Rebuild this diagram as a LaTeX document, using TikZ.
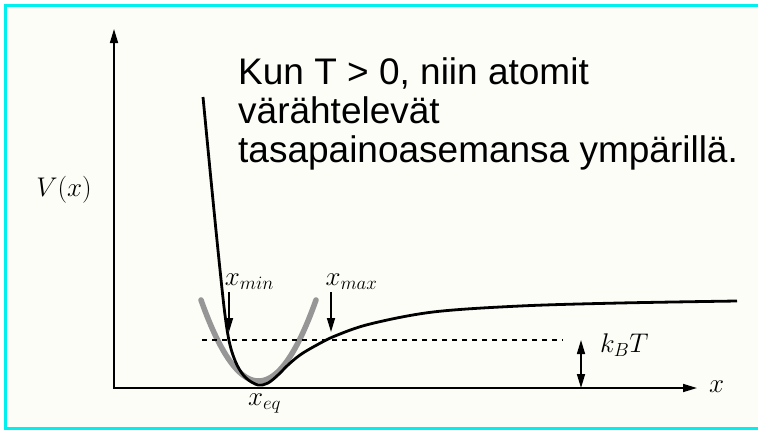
\RequirePackage{fix-cm}
\documentclass[tikz,border=0pt]{standalone}
\usepackage{fontspec}
\newfontfamily\lsans{Liberation Sans}
\usetikzlibrary{arrows.meta}
\definecolor{framecol}{RGB}{0,240,240}
\definecolor{bgcol}{RGB}{253,253,248}
\definecolor{wellcol}{RGB}{150,150,150}
\begin{document}
\begin{tikzpicture}[x=1pt,y=-1pt,
  axisline/.style={line width=1.6pt, -{Triangle[length=14pt,width=8pt]}},
  pot/.style={line width=2.8pt, line join=round},
  harm/.style={line width=5.5pt, color=wellcol, line cap=round},
  lvl/.style={line width=1.8pt, dash pattern=on 5pt off 5pt},
  pointer/.style={line width=1.6pt, -{Triangle[length=14pt,width=8pt]}},
  dbl/.style={line width=1.6pt, {Triangle[length=14pt,width=8pt]}-{Triangle[length=14pt,width=8pt]}},
  lbl/.style={font=\fontsize{27}{32}\selectfont, inner sep=0pt},
  txt/.style={font=\lsans\fontsize{37}{39}\selectfont, align=left, inner sep=0pt}]
\useasboundingbox (0,0) rectangle (758,434);
\fill[bgcol] (5,5) rectangle (770,428);
\draw[framecol, line width=3pt] (770,5) -- (5,5) -- (5,428) -- (770,428);

% axes
\coordinate (O) at (113,388);
\coordinate (ybase) at (114,388);
\coordinate (ytip) at (114,29);
\coordinate (xtip) at (697,388);
\draw[axisline] (ybase) -- (ytip);
\draw[axisline] (O) -- (xtip);

% harmonic approximation
\draw[harm] plot[domain=201:316, samples=60] (\x, {381 - 0.0245*(\x-258.5)^2});

% potential curve
\draw[pot] plot[smooth, tension=0.55] coordinates {(203,97) (211,180) (219,260) (225,315) (230,345) (237,365) (246,378) (258,385) (268,383) (278,375) (288,365) (300,355) (315,346) (335,336) (370,324) (433,312) (520,306) (620,303) (737,301)};

% thermal level
\coordinate (d1) at (202,340);
\coordinate (d2) at (563,340);
\draw[lvl] (d1) -- (d2);

% labels
\node[lbl, anchor=base] (Vx) at (64,196) {$V(x)$};
\node[lbl, anchor=base] (xmin) at (249.5,285) {$x_{min}$};
\node[lbl, anchor=base] (xmax) at (351.5,285) {$x_{max}$};
\node[lbl, anchor=base] (xeq) at (264.5,405) {$x_{eq}$};
\node[lbl, anchor=base west] (kT) at (600,352) {$k_BT$};
\node[lbl, anchor=base west] (xl) at (709,392) {$x$};

% pointers
\coordinate (pmin1) at (229,292);
\coordinate (pmin2) at (229,332);
\coordinate (pmax1) at (331,292);
\coordinate (pmax2) at (331,332);
\draw[pointer] (pmin1) -- (pmin2);
\draw[pointer] (pmax1) -- (pmax2);
\coordinate (k1) at (581,340);
\coordinate (k2) at (581,388);
\draw[dbl] (k1) -- (k2);

% text
\node[txt, anchor=base west] (msg) at (238,162) {Kun T > 0, niin atomit\\värähtelevät\\tasapainoasemansa ympärillä.};
\end{tikzpicture}
\end{document}
